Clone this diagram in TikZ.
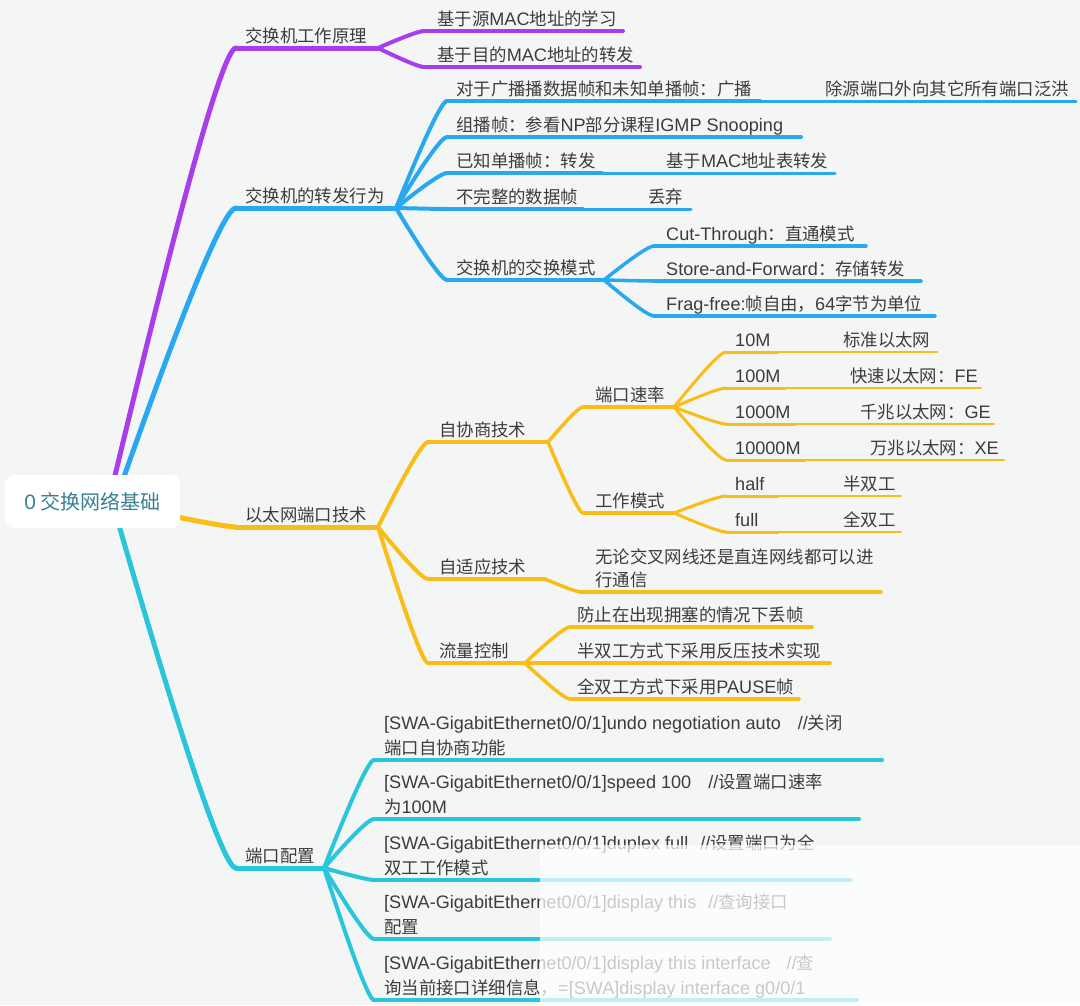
\documentclass[tikz,border=0pt]{standalone}
\usepackage{fontspec}
\setmainfont{Noto Sans CJK SC}
\newfontfamily\latf{Liberation Sans}[Scale=1.04]
\usetikzlibrary{calc}
\definecolor{bg}{HTML}{F4F6F5}
\definecolor{txt}{HTML}{3C3C3C}
\definecolor{pc}{HTML}{A93DEA}
\definecolor{bc}{HTML}{28A8F0}
\definecolor{oc}{HTML}{FABD17}
\definecolor{cc}{HTML}{29C5DA}
\definecolor{rootT}{HTML}{3A7F92}
\newcommand\LL[1]{{\latf #1}}
\newcommand\tfont{\fontsize{17.4pt}{25pt}\selectfont}
\tikzset{
 lbl/.style={anchor=base west, inner sep=0pt, text=txt, font=\tfont},
 lblII/.style={anchor=north west, inner sep=0pt, text=txt, align=left},
 w1/.style={line width=5pt, line cap=round},
 w2/.style={line width=4pt, line cap=round},
 w3/.style={line width=3.5pt, line cap=round},
 w4/.style={line width=3pt, line cap=round},
 w5/.style={line width=2.5pt, line cap=round},
 rootbox/.style={rectangle, rounded corners=9pt, fill=white, minimum width=175pt,
   minimum height=53pt, text=rootT, font=\fontsize{20pt}{24pt}\selectfont, inner sep=0pt}
}
% name, style, x0, x1, y, textx, text
\newcommand\topic[7]{%
 \coordinate (#1-s) at (#3,#5);
 \coordinate (#1-e) at (#4,#5);
 \draw[#2] (#1-s) -- (#1-e);
 \node[lbl] (#1) at (#6,#5-6) {#7};}
\newcommand\topicII[8]{%
 \coordinate (#1-s) at (#3,#5);
 \coordinate (#1-e) at (#4,#5);
 \draw[#2] (#1-s) -- (#1-e);
 \node[lblII, font={\fontsize{17.4pt}{#8pt}\selectfont}] (#1) at (#6,#5-22-#8) {\rule{0pt}{16pt}#7};}
\newcommand\conn[3][]{%
 \draw[#1] let \p1=(#2), \p2=(#3) in (\p1) .. controls ({\x1+0.567*(\x2-\x1)},{\y1+0.667*(\y2-\y1)}) and ({\x2-0.1*(\x2-\x1)},\y2) .. (\p2);}
\begin{document}
\begin{tikzpicture}[x=1pt,y=-1pt]
\useasboundingbox (0,0) rectangle (1080,1005);
\fill[bg] (0,0) rectangle (1080,1005);

\coordinate (rP) at (112,488);
\coordinate (rB) at (120,488);
\coordinate (rO) at (172,516);
\coordinate (rC) at (116,515);

% purple
\topic{P}{pc,w1}{236}{378}{48}{245}{交换机工作原理}
\conn[pc,w1]{rP}{P-s}
\topic{P1}{pc,w2}{424}{623}{31}{437}{基于源\LL{MAC}地址的学习}
\topic{P2}{pc,w2}{424}{640}{67}{437}{基于目的\LL{MAC}地址的转发}
\conn[pc,w2]{P-e}{P1-s}
\conn[pc,w2]{P-e}{P2-s}

% blue
\topic{B}{bc,w1}{236}{396}{208}{245}{交换机的转发行为}
\conn[bc,w1]{rB}{B-s}
\topic{B1}{bc,w2}{447}{760}{101}{456}{对于广播播数据帧和未知单播帧：广播}
\topic{B1a}{bc,w4}{760}{1076}{101}{825}{除源端口外向其它所有端口泛洪}
\topic{B2}{bc,w2}{447}{801}{137}{456}{组播帧：参看\LL{NP}部分课程\LL{IGMP Snooping}}
\topic{B3}{bc,w2}{447}{602}{173}{456}{已知单播帧：转发}
\topic{B3a}{bc,w4}{602}{835}{173}{666}{基于\LL{MAC}地址表转发}
\topic{B4}{bc,w2}{447}{583}{209}{456}{不完整的数据帧}
\topic{B4a}{bc,w4}{583}{691}{209}{648}{丢弃}
\topic{B5}{bc,w2}{447}{604}{280}{456}{交换机的交换模式}
\topic{B5a}{bc,w3}{654}{866}{246}{666}{\LL{Cut-Through}：直通模式}
\topic{B5b}{bc,w3}{654}{921}{281}{666}{\LL{Store-and-Forward}：存储转发}
\topic{B5c}{bc,w3}{654}{935}{316}{666}{\LL{Frag-free:}帧自由，\LL{64}字节为单位}
\foreach \c in {B1,B2,B3,B4,B5}{\conn[bc,w2]{B-e}{\c-s}}
\foreach \c in {B5a,B5b,B5c}{\conn[bc,w3]{B5-e}{\c-s}}

% orange
\topic{O}{oc,w1}{236}{378}{527}{245}{以太网端口技术}
\conn[oc,w1]{rO}{O-s}
\topic{O1}{oc,w2}{428}{548}{442}{439}{自协商技术}
\topic{O2}{oc,w2}{428}{545}{579}{439}{自适应技术}
\topic{O3}{oc,w2}{428}{525}{663}{439}{流量控制}
\foreach \c in {O1,O2,O3}{\conn[oc,w2]{O-e}{\c-s}}
\topic{O1a}{oc,w3}{583}{674}{407}{595}{端口速率}
\topic{O1b}{oc,w3}{583}{674}{513}{595}{工作模式}
\foreach \c in {O1a,O1b}{\conn[oc,w3]{O1-e}{\c-s}}
\topic{S1}{oc,w4}{726}{778}{352}{735}{\LL{10M}}
\topic{S1a}{oc,w5}{778}{937}{352}{843}{标准以太网}
\topic{S2}{oc,w4}{726}{785}{388}{735}{\LL{100M}}
\topic{S2a}{oc,w5}{785}{981}{388}{850}{快速以太网：\LL{FE}}
\topic{S3}{oc,w4}{726}{795}{424}{735}{\LL{1000M}}
\topic{S3a}{oc,w5}{795}{994}{424}{860}{千兆以太网：\LL{GE}}
\topic{S4}{oc,w4}{726}{805}{460}{735}{\LL{10000M}}
\topic{S4a}{oc,w5}{805}{1004}{460}{870}{万兆以太网：\LL{XE}}
\foreach \c in {S1,S2,S3,S4}{\conn[oc,w4]{O1a-e}{\c-s}}
\topic{M1}{oc,w4}{726}{778}{496}{735}{\LL{half}}
\topic{M1a}{oc,w5}{778}{901}{496}{843}{半双工}
\topic{M2}{oc,w4}{726}{778}{532}{735}{\LL{full}}
\topic{M2a}{oc,w5}{778}{901}{532}{843}{全双工}
\foreach \c in {M1,M2}{\conn[oc,w4]{O1b-e}{\c-s}}
\topicII{O2a}{oc,w3}{581}{881}{592}{595}{无论交叉网线还是直连网线都可以进\\行通信}{23}
\conn[oc,w3]{O2-e}{O2a-s}
\topic{F1}{oc,w3}{570}{812}{627}{577}{防止在出现拥塞的情况下丢帧}
\topic{F2}{oc,w3}{570}{830}{663}{577}{半双工方式下采用反压技术实现}
\topic{F3}{oc,w3}{570}{799}{699}{577}{全双工方式下采用\LL{PAUSE}帧}
\foreach \c in {F1,F2,F3}{\conn[oc,w3]{O3-e}{\c-s}}

% cyan
\topic{C}{cc,w1}{236}{324}{868}{245}{端口配置}
\conn[cc,w1]{rC}{C-s}
\topicII{C1}{cc,w2}{374}{882}{760}{384}{\LL{[SWA-GigabitEthernet0/0/1]undo negotiation auto}\hspace{17pt}\LL{//}关闭\\端口自协商功能}{25}
\topicII{C2}{cc,w2}{374}{859}{819}{384}{\LL{[SWA-GigabitEthernet0/0/1]speed 100}\hspace{17pt}\LL{//}设置端口速率\\为\LL{100M}}{25}
\topicII{C3}{cc,w2}{374}{851}{880}{384}{\LL{[SWA-GigabitEthernet0/0/1]duplex full}\hspace{12pt}\LL{//}设置端口为全\\双工工作模式}{25}
\topicII{C4}{cc,w2}{374}{830}{939}{384}{\LL{[SWA-GigabitEthernet0/0/1]display this}\hspace{12pt}\LL{//}查询接口\\配置}{25}
\topicII{C5}{cc,w2}{374}{857}{1000}{384}{\LL{[SWA-GigabitEthernet0/0/1]display this interface}\hspace{16pt}\LL{//}查\\询当前接口详细信息，\LL{=[SWA]display interface g0/0/1}}{25}
\foreach \c in {C1,C2,C3,C4,C5}{\conn[cc,w2]{C-e}{\c-s}}

% root
\node[rootbox] (root) at (92.5,501.5) {\LL{0} 交换网络基础};

% faded overlay
\fill[white, opacity=0.72] (540,845) rectangle (1080,1005);
\end{tikzpicture}
\end{document}
